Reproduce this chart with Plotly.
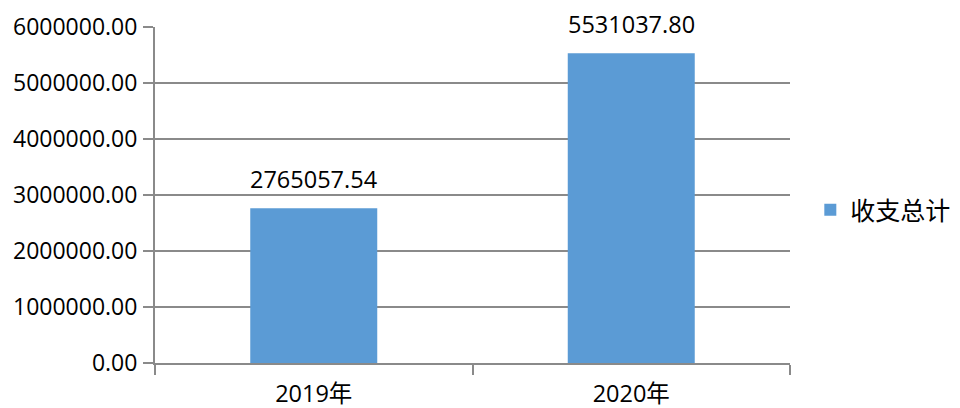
import plotly.graph_objects as go

categories = ["2019年", "2020年"]
values = [2765057.54, 5531037.80]
labels = ["2765057.54", "5531037.80"]
series_name = "收支总计"

FONT = "Open Sans, Noto Sans CJK SC, sans-serif"
GRID = "#8a8a8a"

fig = go.Figure()
fig.add_trace(go.Bar(
    x=categories, y=values, name=series_name,
    marker=dict(color="#5b9bd5", line=dict(width=0)),
    showlegend=True,
))
for c, v, t in zip(categories, values, labels):
    fig.add_annotation(x=c, y=v, text=t, showarrow=False, yanchor="middle",
                       yshift=29, font=dict(family=FONT, size=23.5, color="#000000"))

# page body has an 8px default margin, so the figure is 8px smaller and shifted
fig.update_layout(
    width=952, height=400,
    margin=dict(l=147, r=170, t=19, b=45, autoexpand=False),
    paper_bgcolor="white", plot_bgcolor="white",
    bargap=0.6,
    font=dict(family=FONT, size=23.5, color="#000000"),
    showlegend=True,
    legend=dict(x=1.032, xanchor="left", y=0.455, yanchor="middle",
                font=dict(family=FONT, size=25, color="#000000"),
                itemwidth=30),
)
fig.update_yaxes(
    range=[0, 6000000], dtick=1000000, tickformat=".2f",
    showgrid=True, gridcolor=GRID, gridwidth=2,
    showline=True, linecolor=GRID, linewidth=2,
    ticks="outside", ticklen=10, tickcolor=GRID, tickwidth=2,
    zeroline=False, tickfont=dict(family=FONT, size=23, color="#000000"),
    automargin=False, ticklabelstandoff=1,
)
fig.update_xaxes(
    type="category", showline=True, linecolor=GRID, linewidth=2,
    ticks="outside", tickson="boundaries", ticklen=10, tickcolor=GRID, tickwidth=2,
    showgrid=False, tickfont=dict(family=FONT, size=23.5, color="#000000"),
    automargin=False, ticklabelstandoff=9,
)
fig.write_html("out.html")
